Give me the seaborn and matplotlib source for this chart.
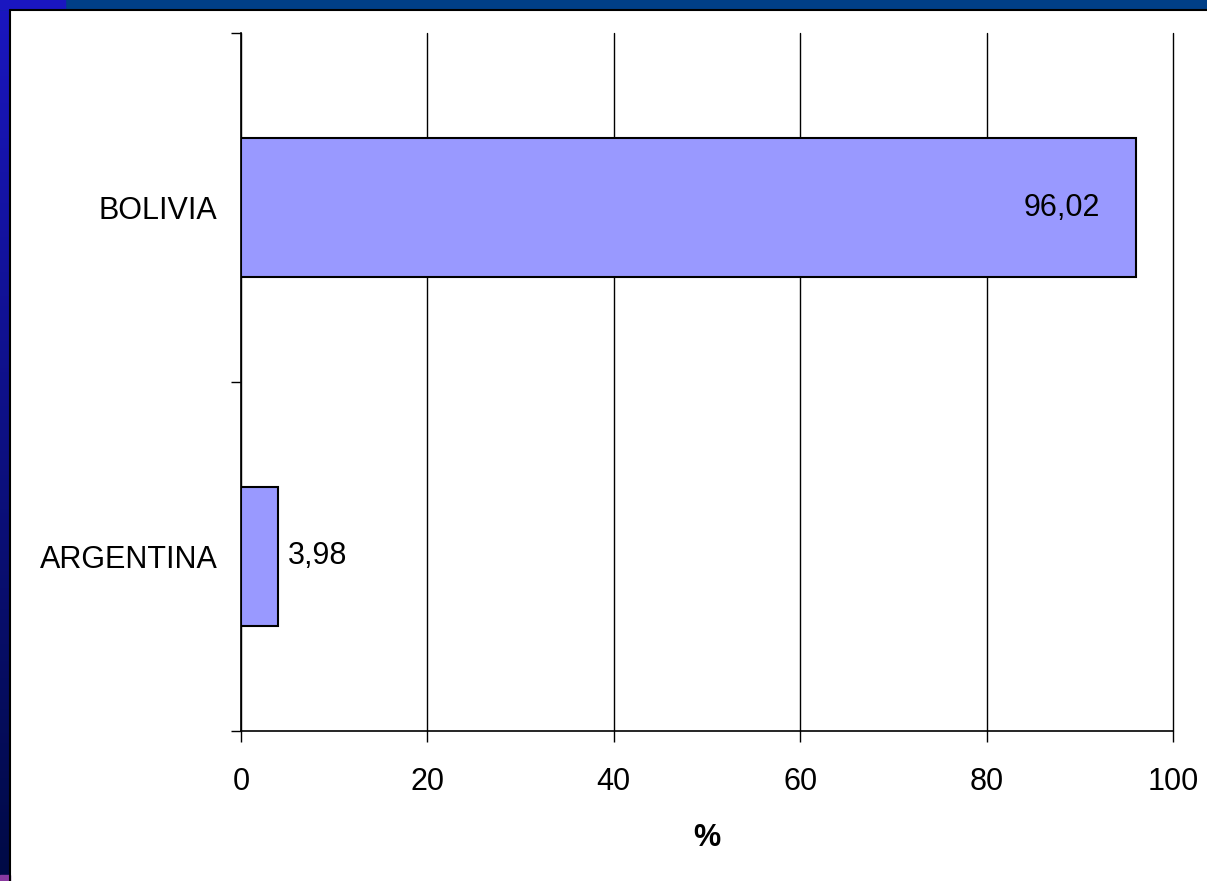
import matplotlib
matplotlib.use("Agg")
import matplotlib.pyplot as plt
import matplotlib.patches as mpatches
import numpy as np
import pandas as pd
import seaborn as sns

# datos
paises = ["BOLIVIA", "ARGENTINA"]
porcentajes = [96.02, 3.98]
etiquetas = ["96,02", "3,98"]
ticks_x = [0, 20, 40, 60, 80, 100]

sns.set_theme(style="white")
plt.rcParams['font.family'] = ['Liberation Sans', 'DejaVu Sans']
plt.rcParams['text.color'] = 'black'
plt.rcParams['xtick.color'] = 'black'
plt.rcParams['ytick.color'] = 'black'
plt.rcParams['axes.labelcolor'] = 'black'

df = pd.DataFrame({"pais": paises, "valor": porcentajes})

fig = plt.figure(figsize=(12.07, 8.81), dpi=100)
fig.patch.set_facecolor("white")

# marco tipo diapositiva
W, H = 1207, 881
fig.patches.append(mpatches.Rectangle((0, 1 - 9 / H), 1, 9 / H, transform=fig.transFigure,
                                      color="#003f87", zorder=0))
grad = np.linspace(0, 1, 256).reshape(-1, 1)
cmap = matplotlib.colors.LinearSegmentedColormap.from_list("borde", ["#1a16c0", "#000a45"])
ax_bg = fig.add_axes([0, 0, 10 / W, 1])
ax_bg.imshow(grad, aspect="auto", cmap=cmap, extent=[0, 1, 0, 1], origin="upper")
ax_bg.axis("off")
fig.patches.append(mpatches.Rectangle((0, 1 - 9 / H), 65 / W, 9 / H, transform=fig.transFigure,
                                      color="#1a16c0", zorder=1))
fig.patches.append(mpatches.Rectangle((0, 0), 10 / W, 6 / H, transform=fig.transFigure,
                                      color="#8a3aa0", zorder=1))
fig.lines.append(plt.Line2D([10 / W, 1], [1 - 10 / H, 1 - 10 / H], transform=fig.transFigure,
                            color="black", lw=1.5))
fig.lines.append(plt.Line2D([10 / W, 10 / W], [0, 1 - 10 / H], transform=fig.transFigure,
                            color="black", lw=1.5))

ax = fig.add_axes([241 / W, 1 - 731 / H, (1173 - 241) / W, (731 - 33) / H])
sns.barplot(data=df, x="valor", y="pais", order=paises, orient="h",
            color="#9999ff", saturation=1, edgecolor="black", linewidth=1.5,
            width=0.4, ax=ax, zorder=3)

ax.set_xlim(0, 100)
ax.set_ylim(1.5, -0.5)
ax.set_xticks(ticks_x)
ax.set_xticklabels([str(t) for t in ticks_x], fontsize=22)
ax.grid(axis="x", color="black", lw=1, zorder=0)
for gl in ax.xaxis.get_gridlines():
    gl.set_clip_on(False)
ax.set_axisbelow(True)

ax.set_yticks([0, 1])
ax.set_yticklabels(paises, fontsize=22)
ax.set_yticks([-0.5, 0.5, 1.5], minor=True)
ax.tick_params(axis="y", which="major", length=0, pad=17)
ax.tick_params(axis="y", which="minor", length=7, width=1, color="black", direction="out", left=True)
ax.tick_params(axis="x", length=8, width=1, color="black", direction="out", bottom=True, pad=18)

for s in ["top", "right"]:
    ax.spines[s].set_visible(False)
for s in ["left", "bottom"]:
    ax.spines[s].set_color("black")
    ax.spines[s].set_linewidth(1.2)

ax.set_ylabel("")
ax.set_xlabel("%", fontsize=22, fontweight="bold", labelpad=19)

# etiquetas de valor
ax.text(porcentajes[0] - 3.9, 0, etiquetas[0], ha="right", va="center", fontsize=22, zorder=5)
ax.text(porcentajes[1] + 1.0, 1, etiquetas[1], ha="left", va="center", fontsize=22, zorder=5)

fig.savefig("out.png", dpi=100)
